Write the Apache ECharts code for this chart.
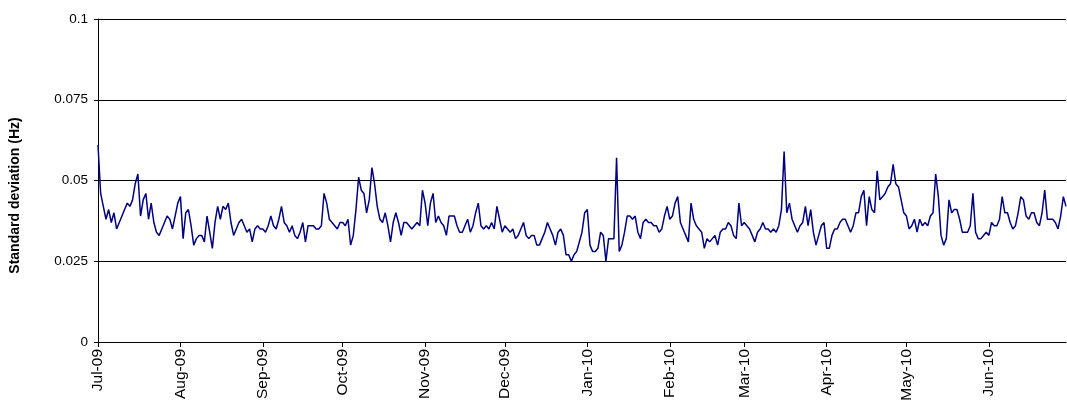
<!DOCTYPE html>
<html><head><meta charset="utf-8">
<script src="https://cdn.jsdelivr.net/npm/echarts@6/dist/echarts.min.js"></script>
<style>html,body{margin:0;padding:0;background:#fff}#c{width:1067px;height:418px}</style>
</head><body><div id="c"></div>
<script>
// Daily standard deviation (Hz), one array per month
const jul09 = [0.061,0.046,0.042,0.038,0.041,0.037,0.040,0.035,0.037,0.039,0.041,0.043,0.042,0.044,0.049,0.052,0.039,0.044,0.046,0.038,0.043,0.037,0.034,0.033,0.035,0.037,0.039,0.038,0.035,0.039,0.043];
const aug09 = [0.045,0.032,0.040,0.041,0.036,0.030,0.032,0.033,0.033,0.031,0.039,0.034,0.029,0.037,0.042,0.038,0.042,0.041,0.043,0.037,0.033,0.035,0.037,0.038,0.036,0.034,0.035,0.031,0.035,0.036,0.035];
const sep09 = [0.035,0.034,0.036,0.039,0.036,0.035,0.038,0.042,0.037,0.036,0.034,0.036,0.033,0.032,0.034,0.037,0.031,0.036,0.036,0.036,0.035,0.035,0.036,0.046,0.043,0.038,0.037,0.036,0.035,0.037];
const oct09 = [0.037,0.036,0.038,0.030,0.033,0.041,0.051,0.047,0.046,0.040,0.044,0.054,0.049,0.042,0.038,0.037,0.040,0.036,0.031,0.037,0.040,0.037,0.033,0.037,0.037,0.036,0.035,0.036,0.037,0.036,0.047];
const nov09 = [0.043,0.036,0.043,0.046,0.037,0.039,0.037,0.036,0.033,0.039,0.039,0.039,0.036,0.034,0.034,0.036,0.038,0.034,0.036,0.040,0.043,0.036,0.035,0.036,0.035,0.037,0.035,0.042,0.038,0.034];
const dec09 = [0.036,0.035,0.034,0.035,0.032,0.033,0.035,0.037,0.033,0.032,0.033,0.033,0.030,0.030,0.032,0.034,0.037,0.035,0.033,0.030,0.034,0.035,0.033,0.027,0.027,0.025,0.027,0.028,0.031,0.034,0.040];
const jan10 = [0.041,0.030,0.028,0.028,0.029,0.034,0.033,0.025,0.032,0.032,0.032,0.057,0.028,0.030,0.034,0.039,0.039,0.038,0.039,0.034,0.032,0.037,0.038,0.037,0.037,0.036,0.036,0.034,0.035,0.039,0.042];
const feb10 = [0.038,0.039,0.043,0.045,0.037,0.035,0.033,0.031,0.043,0.038,0.036,0.035,0.034,0.029,0.032,0.031,0.032,0.033,0.030,0.034,0.035,0.035,0.037,0.036,0.033,0.032,0.043,0.036];
const mar10 = [0.037,0.036,0.035,0.033,0.031,0.034,0.035,0.037,0.035,0.035,0.034,0.035,0.034,0.036,0.041,0.059,0.040,0.043,0.038,0.036,0.034,0.036,0.037,0.042,0.036,0.041,0.034,0.030,0.033,0.036,0.037];
const apr10 = [0.029,0.029,0.033,0.035,0.035,0.037,0.038,0.038,0.036,0.034,0.036,0.040,0.040,0.045,0.047,0.036,0.045,0.041,0.040,0.053,0.044,0.045,0.046,0.048,0.049,0.055,0.049,0.048,0.044,0.040];
const may10 = [0.039,0.035,0.036,0.038,0.034,0.038,0.036,0.037,0.036,0.039,0.040,0.052,0.045,0.033,0.030,0.032,0.044,0.040,0.041,0.041,0.038,0.034,0.034,0.034,0.036,0.046,0.034,0.032,0.032,0.033,0.034];
const jun10 = [0.033,0.037,0.036,0.036,0.038,0.045,0.040,0.040,0.037,0.035,0.036,0.040,0.045,0.044,0.039,0.038,0.040,0.040,0.037,0.036,0.040,0.047,0.038,0.038,0.038,0.037,0.035,0.039,0.045,0.042];

const monthLabels = ['Jul-09','Aug-09','Sep-09','Oct-09','Nov-09','Dec-09','Jan-10','Feb-10','Mar-10','Apr-10','May-10','Jun-10'];
const yTicks = [0, 0.025, 0.05, 0.075, 0.1];

const values = [].concat(jul09, aug09, sep09, oct09, nov09, dec09, jan10, feb10, mar10, apr10, may10, jun10);
const start = Date.UTC(2009, 6, 1);
const days = values.map((v, i) => new Date(start + i * 86400000).toISOString().slice(0, 10));
const isMonthStart = (idx) => days[idx] && days[idx].slice(8, 10) === '01';
const labelOf = (val) => {
  const y = +val.slice(0, 4), m = +val.slice(5, 7);
  return monthLabels[(y - 2009) * 12 + (m - 7)];
};

const chart = echarts.init(document.getElementById('c'), null, {renderer: 'canvas'});
chart.setOption({
  animation: false,
  backgroundColor: '#ffffff',
  grid: {left: 98, right: 1, top: 19, bottom: 76, containLabel: false},
  xAxis: {
    type: 'category',
    data: days,
    boundaryGap: false,
    axisLine: {show: true, lineStyle: {color: '#000', width: 1}},
    axisTick: {show: true, interval: (i) => isMonthStart(i), length: 5, lineStyle: {color: '#000'}},
    axisLabel: {
      interval: (i) => isMonthStart(i),
      rotate: 90,
      formatter: labelOf,
      fontFamily: 'Liberation Sans, Arial, sans-serif',
      fontSize: 15.5,
      color: '#000',
      margin: 7
    },
    splitLine: {show: false}
  },
  yAxis: {
    type: 'value',
    min: yTicks[0],
    max: yTicks[yTicks.length - 1],
    interval: 0.025,
    name: 'Standard deviation (Hz)',
    nameLocation: 'middle',
    nameGap: 76,
    nameTextStyle: {fontFamily: 'Liberation Sans, Arial, sans-serif', fontSize: 14, fontWeight: 'bold', color: '#000', padding: [0, 30, 0, 0]},
    axisLine: {show: true, lineStyle: {color: '#000', width: 1}},
    axisTick: {show: true, length: 4, lineStyle: {color: '#000'}},
    axisLabel: {
      formatter: (v) => String(parseFloat(v.toFixed(3))),
      fontFamily: 'Liberation Sans, Arial, sans-serif',
      fontSize: 13.5,
      color: '#000',
      margin: 10
    },
    splitLine: {show: true, lineStyle: {color: '#000', width: 1}}
  },
  series: [{
    type: 'line',
    data: values,
    showSymbol: false,
    symbol: 'none',
    lineStyle: {color: '#000080', width: 1.5},
    itemStyle: {color: '#000080'}
  }]
});
</script>
</body></html>
